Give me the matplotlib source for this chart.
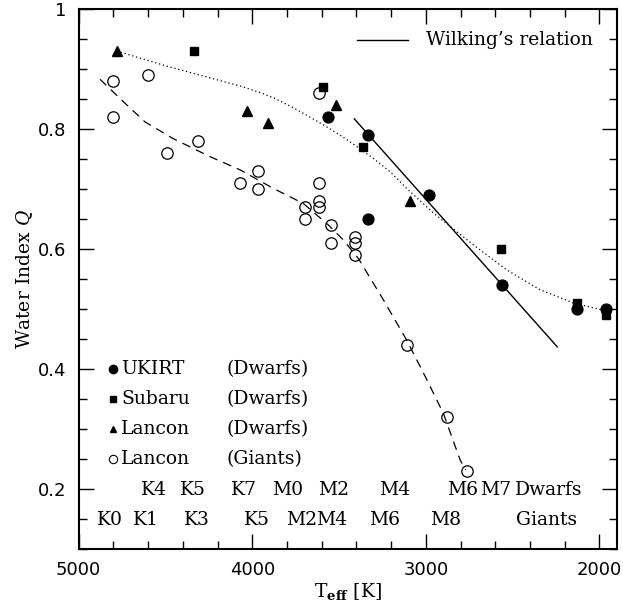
import matplotlib
matplotlib.use("Agg")
import matplotlib.pyplot as plt
from matplotlib.ticker import MultipleLocator, FixedLocator, FixedFormatter

plt.rcParams['mathtext.fontset'] = 'dejavuserif'

# UKIRT dwarfs
ukirt_teff = [3562, 3335, 3335, 2984, 2563, 2131, 1961]
ukirt_q = [0.82, 0.79, 0.65, 0.69, 0.54, 0.50, 0.50]

# Subaru dwarfs
subaru_teff = [4334, 3592, 3364, 2565, 2131, 1961]
subaru_q = [0.93, 0.87, 0.77, 0.60, 0.51, 0.49]

# Lancon dwarfs
lancon_dw_teff = [4780, 4029, 3908, 3516, 3091]
lancon_dw_q = [0.93, 0.83, 0.81, 0.84, 0.68]

# Lancon giants
lancon_gi_teff = [4803, 4803, 4601, 4491, 4310, 4068, 3965, 3965, 3697, 3697,
                  3618, 3618, 3618, 3618, 3547, 3547, 3407, 3407, 3407, 3110,
                  2877, 2763]
lancon_gi_q = [0.88, 0.82, 0.89, 0.76, 0.78, 0.71, 0.73, 0.70, 0.67, 0.65,
               0.86, 0.71, 0.68, 0.67, 0.64, 0.61, 0.62, 0.61, 0.59, 0.44,
               0.32, 0.23]

# Wilking's relation (straight line)
wilking_teff = [3412, 2243]
wilking_q = [0.817, 0.437]

# mean dwarf sequence (dotted)
dwarf_seq_teff = [4780, 4493, 4061, 3946, 3869, 3773, 3686, 3590, 3494, 3398,
                  3302, 3206, 3110, 2956, 2726, 2533, 2341, 2149, 1976]
dwarf_seq_q = [0.930, 0.905, 0.871, 0.860, 0.851, 0.837, 0.823, 0.807, 0.790,
               0.771, 0.751, 0.729, 0.701, 0.660, 0.607, 0.565, 0.532, 0.510,
               0.498]

# mean giant sequence (dashed)
giant_seq_teff = [4877, 4733, 4618, 4455, 4243, 4070, 3878, 3706, 3561, 3475,
                  3388, 3244, 3110, 2994, 2899, 2802, 2770]
giant_seq_q = [0.883, 0.843, 0.812, 0.784, 0.754, 0.732, 0.701, 0.676, 0.640,
               0.615, 0.584, 0.515, 0.448, 0.382, 0.326, 0.248, 0.232]

# spectral types along the bottom
dwarf_types = ['K4', 'K5', 'K7', 'M0', 'M2', 'M4', 'M6', 'M7', 'Dwarfs']
dwarf_types_teff = [4565, 4340, 4047, 3797, 3531, 3177, 2788, 2598, 2290]
giant_types = ['K0', 'K1', 'K3', 'K5', 'M2', 'M4', 'M6', 'M8', 'Giants']
giant_types_teff = [4817, 4612, 4321, 3974, 3716, 3544, 3235, 2883, 2303]

fig = plt.figure(figsize=(6.23, 6.07), dpi=100)
ax = fig.add_axes([0.1263, 0.0956, 0.8637, 0.8894])

serif = 'DejaVu Serif'
fs = 13.5

ax.plot(dwarf_seq_teff, dwarf_seq_q, color='black', lw=0.9, ls=(0, (1, 2.2)))
ax.plot(giant_seq_teff, giant_seq_q, color='black', lw=0.9, ls=(0, (7, 5)))
ax.plot(wilking_teff, wilking_q, color='black', lw=1.0)

ax.plot(lancon_gi_teff, lancon_gi_q, 'o', ms=8.2, mfc='none', mec='black', mew=0.9)
ax.plot(ukirt_teff, ukirt_q, 'o', ms=7.8, color='black')
ax.plot(subaru_teff, subaru_q, 's', ms=5.8, color='black')
ax.plot(lancon_dw_teff, lancon_dw_q, '^', ms=6.5, color='black')

# legend, lower left
leg_y = [0.40, 0.35, 0.30, 0.25]
leg_name = ['UKIRT', 'Subaru', 'Lancon', 'Lancon']
leg_kind = ['(Dwarfs)', '(Dwarfs)', '(Dwarfs)', '(Giants)']
leg_style = [dict(marker='o', ms=6, color='black'),
             dict(marker='s', ms=4.5, color='black'),
             dict(marker='^', ms=5, color='black'),
             dict(marker='o', ms=6, mfc='none', mec='black', mew=0.8)]
for y, name, kind, st in zip(leg_y, leg_name, leg_kind, leg_style):
    ax.plot([4804], [y], ls='none', **st)
    ax.text(4755, y, name, family=serif, fontsize=fs, va='center', ha='left')
    ax.text(4150, y, kind, family=serif, fontsize=fs, va='center', ha='left')

# legend for Wilking's relation
ax.plot([3398, 3100], [0.948, 0.948], color='black', lw=1.0)
ax.text(2998, 0.948, "Wilking\u2019s relation", family=serif, fontsize=fs,
        va='center', ha='left')

for t, s in zip(dwarf_types_teff, dwarf_types):
    ax.text(t, 0.198, s, family=serif, fontsize=fs, va='center', ha='center')
for t, s in zip(giant_types_teff, giant_types):
    ax.text(t, 0.148, s, family=serif, fontsize=fs, va='center', ha='center')

ax.set_xlim(5000, 1900)
ax.set_ylim(0.1, 1.0)

ax.xaxis.set_major_locator(FixedLocator([5000, 4000, 3000, 2000]))
ax.xaxis.set_major_formatter(FixedFormatter(['5000', '4000', '3000', '2000']))
ax.xaxis.set_minor_locator(MultipleLocator(200))
ax.yaxis.set_major_locator(FixedLocator([0.2, 0.4, 0.6, 0.8, 1.0]))
ax.yaxis.set_major_formatter(FixedFormatter(['0.2', '0.4', '0.6', '0.8', '1']))
ax.yaxis.set_minor_locator(MultipleLocator(0.05))

ax.tick_params(which='both', direction='in', top=True, right=True,
               width=1.0, labelsize=13)
ax.tick_params(which='major', length=11, pad=9)
ax.tick_params(which='minor', length=6)
for sp in ax.spines.values():
    sp.set_linewidth(1.5)

ax.set_xlabel(r'T$_{\mathbf{eff}}$ [K]', family=serif, fontsize=fs, labelpad=1)
ax.set_ylabel(r'Water Index $Q$', family=serif, fontsize=fs, labelpad=2)

fig.savefig('out.png', dpi=100)
